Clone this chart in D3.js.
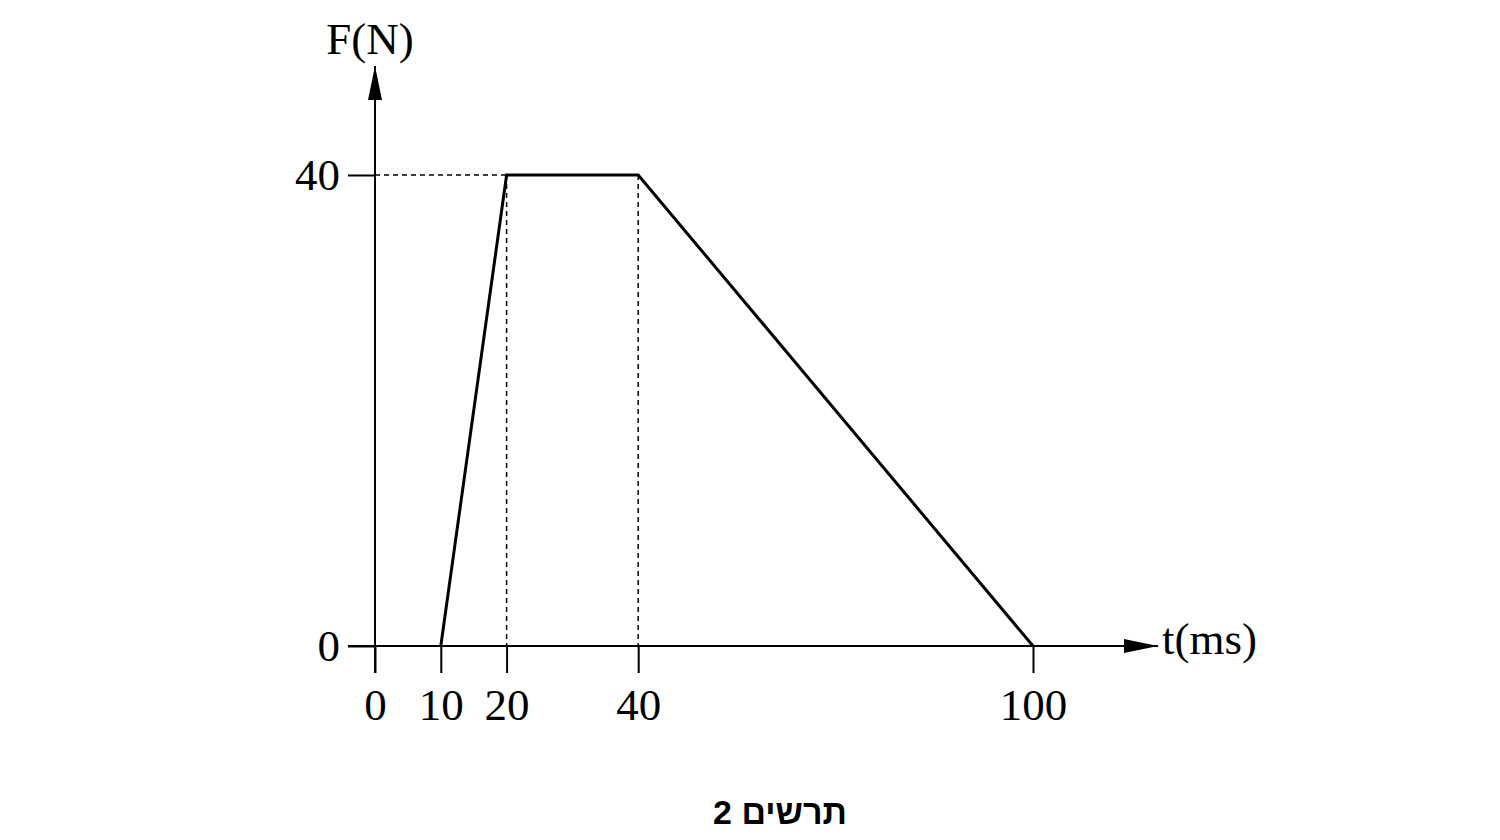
<!DOCTYPE html>
<html>
<head>
<meta charset="utf-8">
<script src="https://cdn.jsdelivr.net/npm/d3@7"></script>
<style>
  body { margin: 0; background: #fff; }
  svg { display: block; }
</style>
</head>
<body>
<div id="chart"></div>
<script>
// force profile, t in ms and F in N
const times = [10, 20, 40, 100];
const forces = [0, 40, 40, 0];
const xTicks = [0, 10, 20, 40, 100];
const yTicks = [0, 40];
const dashedTimes = [20, 40];

const W = 1500, H = 840;
const serif = '"Liberation Serif", "Times New Roman", serif';

const svg = d3.select('#chart')
  .append('svg')
  .attr('width', W)
  .attr('height', H);

const x = d3.scaleLinear().domain([0, 100]).range([375, 1033]);
const y = d3.scaleLinear().domain([0, 40]).range([646, 175]);

// arrow head
svg.append('defs').append('marker')
  .attr('id', 'arrow')
  .attr('viewBox', '0 0 34 14')
  .attr('refX', 34)
  .attr('refY', 7)
  .attr('markerWidth', 34)
  .attr('markerHeight', 14)
  .attr('markerUnits', 'userSpaceOnUse')
  .attr('orient', 'auto')
  .append('path')
  .attr('d', 'M0,0 L34,7 L0,14 Z')
  .attr('fill', '#000');

// axes lines
svg.append('line')
  .attr('x1', 348).attr('y1', y(0))
  .attr('x2', 1158).attr('y2', y(0))
  .attr('stroke', '#000').attr('stroke-width', 2)
  .attr('marker-end', 'url(#arrow)');

svg.append('line')
  .attr('x1', x(0)).attr('y1', y(0) + 27)
  .attr('x2', x(0)).attr('y2', 66)
  .attr('stroke', '#000').attr('stroke-width', 2)
  .attr('marker-end', 'url(#arrow)');

// x ticks
const xAxis = svg.append('g')
  .attr('transform', `translate(0, ${y(0)})`)
  .call(d3.axisBottom(x).tickValues(xTicks).tickSize(27).tickPadding(15).tickFormat(d3.format('d')));
xAxis.select('.domain').remove();
xAxis.selectAll('line').attr('stroke', '#000').attr('stroke-width', 2);
xAxis.selectAll('text')
  .attr('fill', '#000')
  .style('font-family', serif)
  .style('font-size', '45px');

// y ticks
const yAxis = svg.append('g')
  .attr('transform', `translate(${x(0)}, 0)`)
  .call(d3.axisLeft(y).tickValues(yTicks).tickSize(27).tickPadding(8).tickFormat(d3.format('d')));
yAxis.select('.domain').remove();
yAxis.selectAll('line').attr('stroke', '#000').attr('stroke-width', 2);
yAxis.selectAll('text')
  .attr('fill', '#000')
  .style('font-family', serif)
  .style('font-size', '45px');

// dashed guides
svg.append('line')
  .attr('x1', x(0)).attr('y1', y(40))
  .attr('x2', x(20)).attr('y2', y(40))
  .attr('stroke', '#000').attr('stroke-width', 1.5)
  .attr('stroke-dasharray', '5,4');

svg.selectAll('.guide')
  .data(dashedTimes)
  .enter().append('line')
  .attr('class', 'guide')
  .attr('x1', d => x(d)).attr('y1', y(40))
  .attr('x2', d => x(d)).attr('y2', y(0))
  .attr('stroke', '#000').attr('stroke-width', 1.5)
  .attr('stroke-dasharray', '5,4');

// force curve
const line = d3.line()
  .x((d, i) => x(times[i]))
  .y(d => y(d));

svg.append('path')
  .datum(forces)
  .attr('d', line)
  .attr('fill', 'none')
  .attr('stroke', '#000')
  .attr('stroke-width', 3)
  .attr('stroke-linejoin', 'miter');

// axis titles
svg.append('text')
  .attr('x', 370).attr('y', 54)
  .attr('text-anchor', 'middle')
  .style('font-family', serif)
  .style('font-size', '45px')
  .text('F(N)');

svg.append('text')
  .attr('x', 1162).attr('y', 654)
  .style('font-family', serif)
  .style('font-size', '45px')
  .text('t(ms)');

// caption
svg.append('text')
  .attr('x', 780).attr('y', 824)
  .attr('text-anchor', 'middle')
  .attr('direction', 'rtl')
  .style('font-family', '"Liberation Sans", "DejaVu Sans", sans-serif')
  .style('font-weight', 'bold')
  .style('font-size', '34px')
  .text('תרשים 2');
</script>
</body>
</html>
